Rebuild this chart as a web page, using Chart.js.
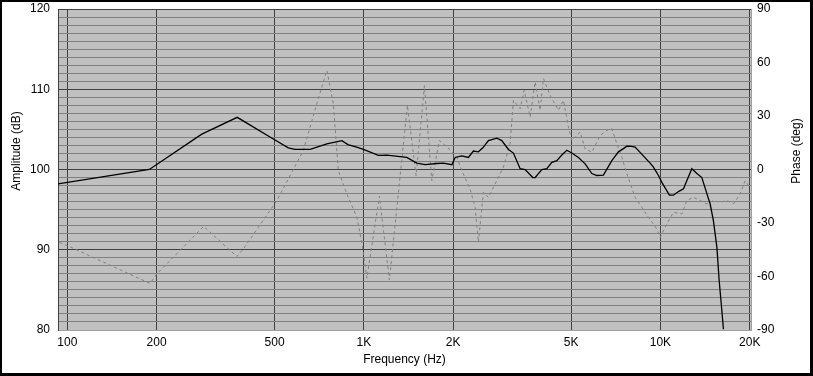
<!DOCTYPE html>
<html>
<head>
<meta charset="utf-8">
<script src="https://cdn.jsdelivr.net/npm/chart.js@4/dist/chart.umd.min.js"></script>
<style>
html,body{margin:0;padding:0;background:#fff;}
canvas{display:block;}
</style>
</head>
<body>
<canvas id="c" width="813" height="376"></canvas>
<script>
// ---- data ----
const ampFreq = [93,189,284,374,495,556,586,659,750,843,883,946,996,1119,1195,1395,1508,1609,1762,1854,1980,2031,2139,2251,2340,2433,2518,2630,2807,2918,3072,3193,3364,3497,3712,3780,3981,4139,4303,4473,4650,4834,5025,5290,5572,5870,6102,6422,6856,7216,7502,7703,7903,8216,9230,9471,9847,10110,10720,11060,11500,11960,12270,12760,13270,13790,14340,14710,15090,15500,15780,16110,16310];
const ampDb = [98.2,100.0,104.4,106.5,103.8,102.7,102.5,102.5,103.2,103.6,103.1,102.8,102.5,101.75,101.8,101.5,100.8,100.6,100.75,100.8,100.6,101.5,101.7,101.5,102.3,102.2,102.7,103.6,103.9,103.6,102.5,102.05,100.1,100.0,99.0,99.0,100.0,100.1,100.9,101.1,101.8,102.4,102.05,101.5,100.7,99.5,99.25,99.3,101.1,102.2,102.6,102.9,102.9,102.8,100.8,100.3,99.25,98.4,96.8,96.8,97.25,97.6,98.6,100.1,99.5,99.0,97.0,95.7,93.6,90.3,86.1,82.4,80.1];
const phFreq = [94,102,190,200,288,373,392,509,625,694,750,789,820,876,947,988,1023,1128,1219,1402,1500,1600,1694,1797,1953,2058,2139,2281,2371,2433,2529,2630,2807,2954,3112,3193,3364,3470,3635,3780,3929,4031,4246,4529,4707,4894,5025,5361,5572,5870,6260,6595,6856,7129,7411,7703,8216,8655,9110,9725,9977,10510,11060,11810,12270,12920,13610,14340,15090,15900,16750,17630,18570,19310,19810];
const phDeg = [-40.9,-43.3,-63.9,-58.7,-31.9,-48.8,-44.6,-17.4,10.7,37,55.5,37,-0.7,-13.7,-26.8,-42.75,-61,-15,-62,36,-3.4,47,-6.2,16.3,11.1,6.9,-0.6,-10.9,-21.2,-40.9,-12.8,-15.6,-6.2,1.3,14.5,38.8,34.1,44.4,29.4,49.1,33.2,51,41.6,33.2,38.8,23.8,16.3,21,11.6,9.7,19.1,21.9,22.9,14.45,6.9,-2.4,-15.6,-21.2,-26.8,-33.4,-38.1,-30.5,-24,-24.9,-17.4,-15.6,-17.4,-19.3,-17.4,-18.4,-17.4,-19.3,-13.7,-6.2,-9];
const xTickValues = [100,200,500,1000,2000,5000,10000,20000];
const xTickLabels = ['100','200','500','1K','2K','5K','10K','20K'];
const xTitle = 'Frequency (Hz)';
const yLeftTitle = 'Amplitude (dB)';
const yRightTitle = 'Phase (deg)';

const FONT = {family: '"Liberation Sans", Arial, sans-serif', size: 12};

const framePlugin = {
  id: 'frame',
  beforeDraw(chart) {
    const {ctx, chartArea: a} = chart;
    ctx.save();
    ctx.fillStyle = '#ffffff';
    ctx.fillRect(0, 0, chart.width, chart.height);
    ctx.fillStyle = '#c0c0c0';
    ctx.fillRect(a.left, a.top, a.right - a.left, a.bottom - a.top);
    ctx.restore();
  },
  afterDraw(chart) {
    const {ctx} = chart;
    ctx.save();
    ctx.fillStyle = '#000';
    ctx.font = '12px "Liberation Sans", Arial, sans-serif';
    ctx.textAlign = 'center';
    ctx.textBaseline = 'middle';
    ctx.translate(17, 151);
    ctx.rotate(-Math.PI / 2);
    ctx.fillText(yLeftTitle, 0, 0);
    ctx.setTransform(1, 0, 0, 1, 0, 0);
    ctx.translate(797, 151);
    ctx.rotate(-Math.PI / 2);
    ctx.fillText(yRightTitle, 0, 0);
    ctx.setTransform(1, 0, 0, 1, 0, 0);
    ctx.fillStyle = '#000';
    ctx.fillRect(0, 0, chart.width, 2);
    ctx.fillRect(0, 0, 2, chart.height);
    ctx.fillRect(0, chart.height - 3, chart.width, 3);
    ctx.fillRect(chart.width - 3, 0, 3, chart.height);
    ctx.restore();
  }
};

function noPad(s) { s.paddingTop = 0; s.paddingBottom = 0; s.paddingLeft = 0; s.paddingRight = 0; }

new Chart(document.getElementById('c'), {
  type: 'line',
  data: {
    datasets: [
      {
        label: 'Amplitude',
        data: ampFreq.map((f, i) => ({x: f, y: ampDb[i]})),
        yAxisID: 'y',
        borderColor: '#000000',
        borderWidth: 1.3,
        pointRadius: 0,
        tension: 0,
        fill: false,
        order: 1
      },
      {
        label: 'Phase',
        data: phFreq.map((f, i) => ({x: f, y: phDeg[i]})),
        yAxisID: 'y1',
        borderColor: '#808080',
        borderWidth: 1,
        borderDash: [3, 3],
        pointRadius: 0,
        tension: 0,
        fill: false,
        order: 2
      }
    ]
  },
  options: {
    responsive: false,
    animation: false,
    devicePixelRatio: 1,
    layout: {padding: {top: 9, left: 0, right: 0, bottom: 0}},
    plugins: {legend: {display: false}, tooltip: {enabled: false}},
    scales: {
      x: {
        type: 'logarithmic',
        min: 93,
        max: 20200,
        afterBuildTicks: axis => { axis.ticks = xTickValues.map(v => ({value: v})); },
        afterFit: s => { s.height = 46; noPad(s); },
        ticks: {
          autoSkip: false,
          maxRotation: 0,
          padding: 5,
          color: '#000',
          font: FONT,
          callback: (v) => { const i = xTickValues.indexOf(v); return i >= 0 ? xTickLabels[i] : ''; }
        },
        grid: {color: '#404040', lineWidth: 1, drawTicks: false},
        border: {color: '#a0a0a0', width: 1},
        title: {display: true, text: xTitle, color: '#000', font: FONT, padding: {top: 0, bottom: 9}}
      },
      y: {
        position: 'left',
        min: 80,
        max: 120,
        afterFit: s => { s.width = 58; noPad(s); },
        ticks: {
          stepSize: 1,
          autoSkip: false,
          padding: 8,
          color: '#000',
          font: FONT,
          callback: v => (v % 10 === 0 ? String(v) : '')
        },
        grid: {
          drawTicks: false,
          lineWidth: 1,
          color: c => (c.tick && c.tick.value % 10 === 0 ? '#404040' : '#808080')
        },
        border: {color: '#404040', width: 1}
      },
      y1: {
        position: 'right',
        min: -90,
        max: 90,
        afterFit: s => { s.width = 62; noPad(s); },
        ticks: {stepSize: 30, padding: 6, color: '#000', font: FONT},
        grid: {display: false, drawTicks: false},
        border: {color: '#a0a0a0', width: 1}
      }
    }
  },
  plugins: [framePlugin]
});
</script>
</body>
</html>
